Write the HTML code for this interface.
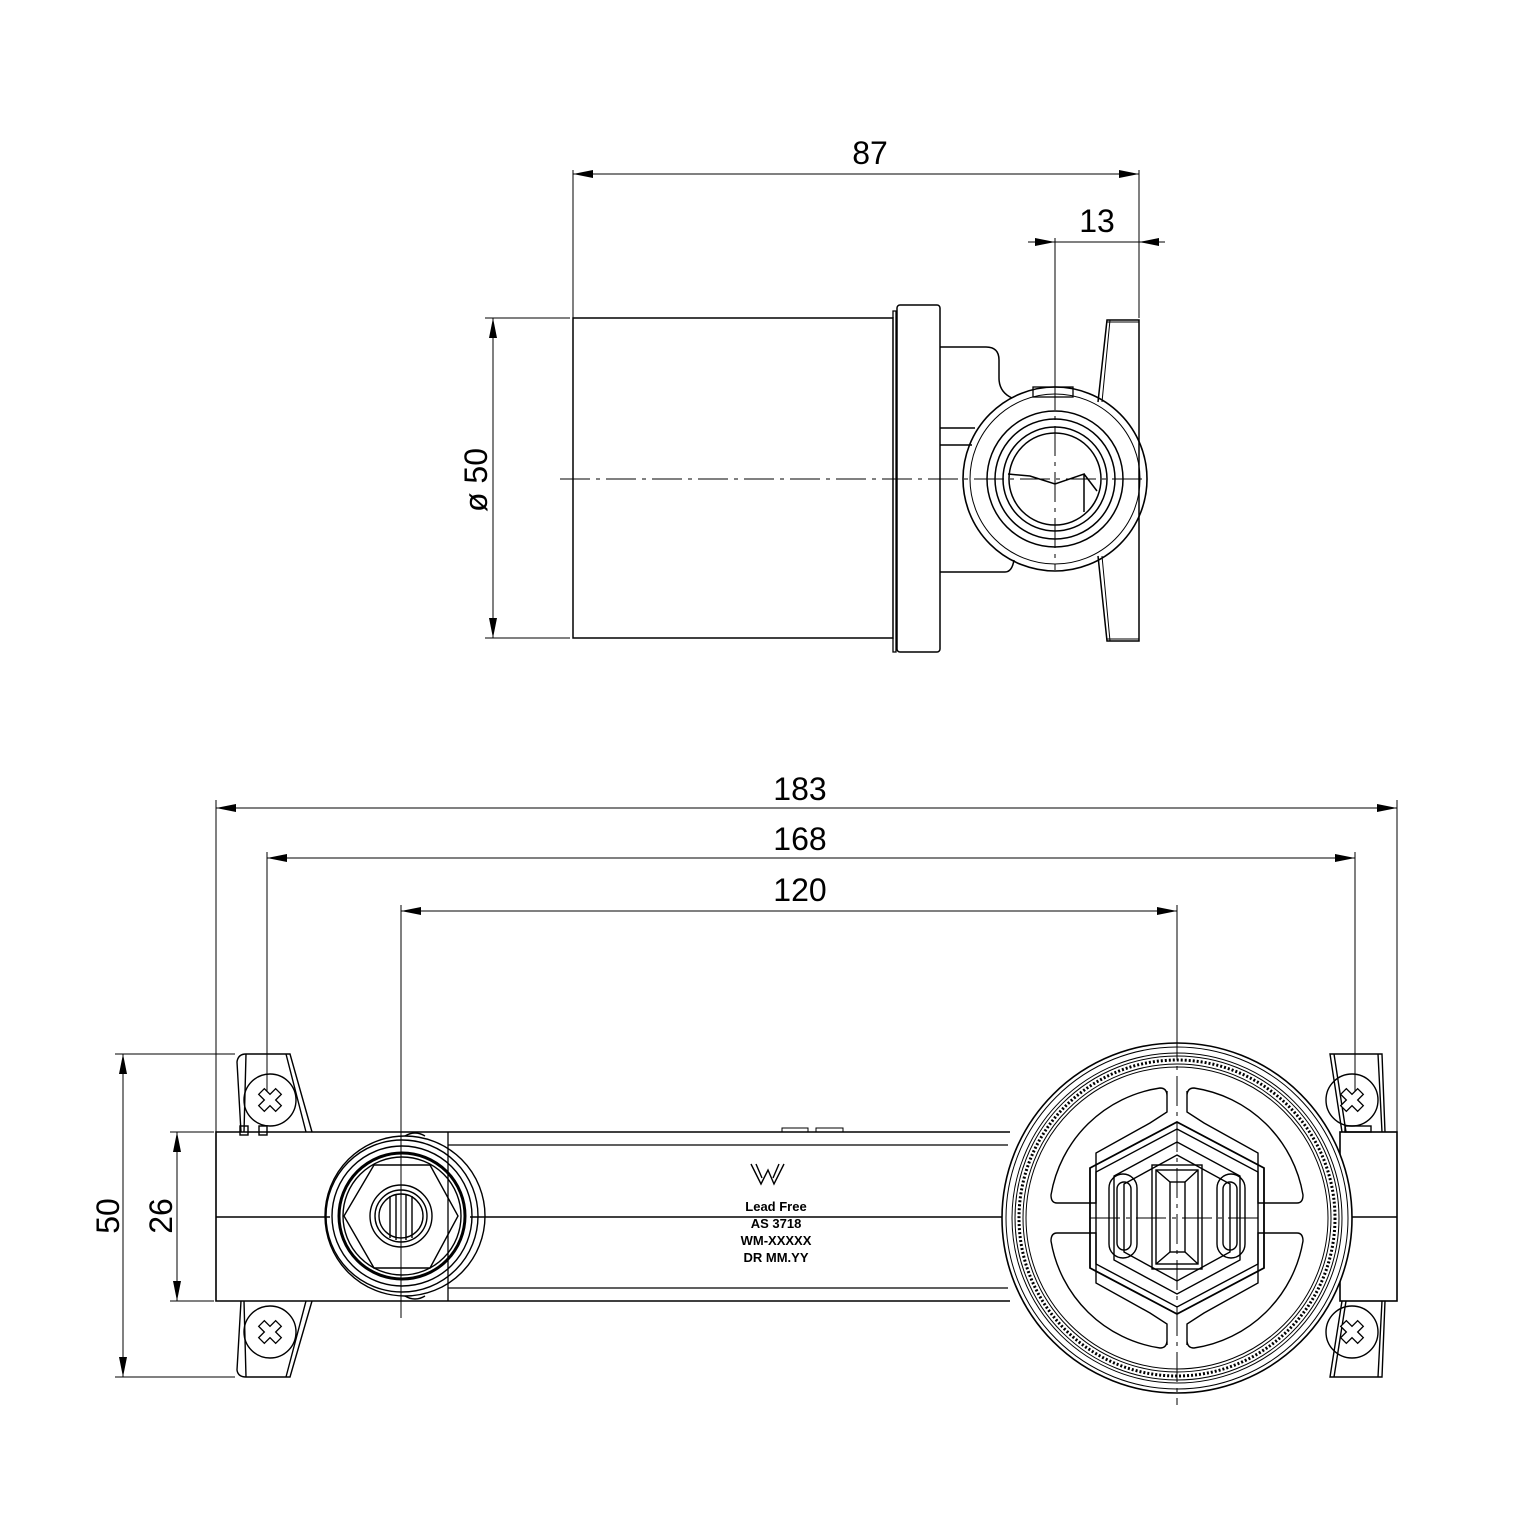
<!DOCTYPE html>
<html><head><style>body{margin:0;background:#fff}svg{display:block}</style></head>
<body>
<svg width="1536" height="1536" viewBox="0 0 1536 1536" xmlns="http://www.w3.org/2000/svg" font-family="Liberation Sans, sans-serif">
<defs>
<marker id="a" viewBox="0 0 20 8" refX="20" refY="4" markerWidth="20" markerHeight="8" markerUnits="userSpaceOnUse" orient="auto-start-reverse"><path d="M0,0 L20,4 L0,8z" fill="#000"/></marker>
</defs>
<g stroke="#000" fill="none" stroke-width="1">
<line x1="573" y1="170" x2="573" y2="318"/><line x1="1139" y1="170" x2="1139" y2="318"/>
<line x1="573" y1="174" x2="1139" y2="174" marker-start="url(#a)" marker-end="url(#a)"/>
<line x1="1055" y1="238" x2="1055" y2="400"/>
<line x1="1028" y1="242" x2="1055" y2="242" marker-end="url(#a)"/>
<line x1="1165" y1="242" x2="1139" y2="242" marker-end="url(#a)"/>
<line x1="1055" y1="242" x2="1139" y2="242"/>
<line x1="485" y1="318" x2="570" y2="318"/><line x1="485" y1="638" x2="570" y2="638"/>
<line x1="493" y1="318" x2="493" y2="638" marker-start="url(#a)" marker-end="url(#a)"/>
<rect x="573" y="318" width="320" height="320" stroke-width="1.5"/>
<path d="M893,318 V311 h3 V652 h-3 V638" stroke-width="1.3"/>
<rect x="897" y="305" width="43" height="347" rx="3" stroke-width="1.5"/>
<path d="M940,347 H986 Q999,347 999,360 V378 Q999,392 1012,398" stroke-width="1.5"/>
<path d="M940,428 H975 M940,445 H972 M940,572 H1005 Q1012,572 1014,560" stroke-width="1.5"/>
<rect x="1033" y="387" width="40" height="10" stroke-width="1.3"/>
<circle cx="1055" cy="479" r="92" stroke-width="1.6"/>
<circle cx="1055" cy="479" r="85"/>
<circle cx="1055" cy="479" r="68" stroke-width="1.5"/>
<circle cx="1055" cy="479" r="60" stroke-width="1.5"/>
<circle cx="1055" cy="479" r="52" stroke-width="1.5"/>
<circle cx="1055" cy="479" r="46" stroke-width="1.5"/>
<path d="M1008,474 L1030,476 L1055,484 L1084,474 L1084,512 M1084,474 L1097,491" stroke-width="1.5"/>
<path d="M1098,402 L1107,320 H1139 V641 H1107 L1098,556" stroke-width="1.5"/>
<path d="M1110,320 L1102,402 M1110,641 L1102,556" />
<path d="M1107,322 H1139 M1107,639 H1139"/>
</g>
<g stroke="#000" stroke-width="1" stroke-dasharray="30,6,4,6" fill="none">
<line x1="560" y1="479" x2="1145" y2="479"/>
<line x1="1055" y1="380" x2="1055" y2="570"/>
</g>
<g font-size="32" fill="#000" text-anchor="middle">
<text x="870" y="164">87</text>
<text x="1097" y="232">13</text>
<text x="0" y="0" transform="translate(487,480) rotate(-90)">ø 50</text>
<text x="800" y="800">183</text>
<text x="800" y="850">168</text>
<text x="800" y="901">120</text>
<text x="0" y="0" transform="translate(119,1216) rotate(-90)">50</text>
<text x="0" y="0" transform="translate(172,1216) rotate(-90)">26</text>
</g>
<g stroke="#000" fill="none" stroke-width="1">
<line x1="216" y1="800" x2="216" y2="1132"/><line x1="1397" y1="800" x2="1397" y2="1132"/>
<line x1="216" y1="808" x2="1397" y2="808" marker-start="url(#a)" marker-end="url(#a)"/>
<line x1="267" y1="852" x2="267" y2="1100"/><line x1="1355" y1="852" x2="1355" y2="1100"/>
<line x1="267" y1="858" x2="1355" y2="858" marker-start="url(#a)" marker-end="url(#a)"/>
<line x1="401" y1="905" x2="401" y2="1315"/><line x1="1177" y1="905" x2="1177" y2="1375"/>
<line x1="401" y1="911" x2="1177" y2="911" marker-start="url(#a)" marker-end="url(#a)"/>
<line x1="115" y1="1054" x2="235" y2="1054"/><line x1="115" y1="1377" x2="235" y2="1377"/>
<line x1="123" y1="1054" x2="123" y2="1377" marker-start="url(#a)" marker-end="url(#a)"/>
<line x1="170" y1="1132" x2="214" y2="1132"/><line x1="170" y1="1301" x2="214" y2="1301"/>
<line x1="177" y1="1132" x2="177" y2="1301" marker-start="url(#a)" marker-end="url(#a)"/>
<g stroke-width="1.4">
<path d="M241,1132 L237,1062 Q238,1054 246,1054 H290 L312,1132"/>
<path d="M246,1054 L244,1132 M286,1054 L306,1132"/>
<circle cx="270" cy="1100" r="26"/>
<path d="M241,1301 L237,1370 Q238,1377 246,1377 H290 L312,1301"/>
<path d="M246,1377 L244,1301 M286,1377 L306,1301"/>
<circle cx="270" cy="1332" r="26"/>
<path d="M1342,1132 L1330,1054 H1382 L1385,1132 M1334,1054 L1346,1132 M1378,1054 L1382,1132"/>
<circle cx="1352" cy="1100" r="26"/>
<path d="M1342,1301 L1330,1377 H1382 L1385,1301 M1334,1377 L1346,1301 M1378,1377 L1382,1301"/>
<circle cx="1352" cy="1332" r="26"/>
<rect x="1345" y="1126" width="26" height="6"/>
<rect x="240" y="1126" width="8" height="9"/><rect x="259" y="1126" width="8" height="9"/>
</g>
<path d="M1010,1132 H216 V1301 H1010" stroke-width="1.6"/>
<line x1="216" y1="1217" x2="330" y2="1217" stroke-width="1.4"/>
<line x1="470" y1="1217" x2="1005" y2="1217" stroke-width="1.4"/>
<path d="M448,1132 V1301 M448,1145 H1008 M448,1288 H1008" stroke-width="1.3"/>
<rect x="1340" y="1132" width="57" height="169" stroke-width="1.6"/>
<line x1="1340" y1="1217" x2="1397" y2="1217" stroke-width="1.4"/>
<path d="M782,1132 V1128 H808 V1132 M816,1132 V1128 H843 V1132"/>
<g stroke-width="1.4">
<circle cx="405" cy="1216" r="80"/>
<circle cx="402" cy="1216" r="76"/>
<circle cx="402" cy="1216" r="70"/>
<circle cx="402" cy="1216" r="63" stroke-width="3"/>
<circle cx="402" cy="1216" r="59"/>
<polygon points="344,1216 374,1165 430,1165 458,1216 430,1268 374,1268"/>
<circle cx="401" cy="1216" r="31"/><circle cx="401" cy="1216" r="26"/><circle cx="401" cy="1216" r="22"/>
<path d="M390,1196 V1238 M396,1194 V1240 M406,1194 V1240 M412,1196 V1238"/>
<path d="M405,1136 Q415,1130 425,1136 M405,1296 Q415,1302 425,1296"/>
</g>
<circle cx="1177" cy="1218" r="175" fill="#fff" stroke-width="1.6"/>
<circle cx="1177" cy="1218" r="171"/>
<circle cx="1177" cy="1218" r="165"/>
<circle cx="1177" cy="1218" r="162"/>
<circle cx="1177" cy="1218" r="158" stroke-dasharray="2,2" stroke-width="3"/>
<circle cx="1177" cy="1218" r="154"/>
<circle cx="1177" cy="1218" r="151"/>
<g stroke-width="1.4">
<path d="M1167,1091 V1112 L1150,1123 L1096,1153 V1203 H1057 Q1051,1203 1051,1195 A130,130 0 0 1 1160,1088 Q1167,1088 1167,1096"/>
<path d="M1187,1091 V1112 L1204,1123 L1258,1153 V1203 H1297 Q1303,1203 1303,1195 A130,130 0 0 0 1194,1088 Q1187,1088 1187,1096"/>
<path d="M1167,1345 V1324 L1150,1313 L1096,1283 V1233 H1057 Q1051,1233 1051,1241 A130,130 0 0 0 1160,1348 Q1167,1348 1167,1340"/>
<path d="M1187,1345 V1324 L1204,1313 L1258,1283 V1233 H1297 Q1303,1233 1303,1241 A130,130 0 0 1 1194,1348 Q1187,1348 1187,1340"/>
<polygon points="1177,1122 1264,1168 1264,1268 1177,1314 1090,1268 1090,1168" stroke-width="1.8"/>
<polygon points="1177,1129 1258,1172 1258,1264 1177,1307 1096,1264 1096,1172"/>
<polygon points="1177,1142 1240,1176 1240,1260 1177,1294 1114,1260 1114,1176"/>
<polygon points="1177,1155 1230,1184 1230,1252 1177,1281 1124,1252 1124,1184"/>
<rect x="1152" y="1165" width="50" height="104"/>
<rect x="1156" y="1170" width="42" height="94"/>
<rect x="1170" y="1182" width="15" height="70"/>
<path d="M1156,1170 L1170,1182 M1198,1170 L1185,1182 M1156,1264 L1170,1252 M1198,1264 L1185,1252"/>
<rect x="1109" y="1174" width="28" height="84" rx="14"/>
<rect x="1117" y="1182" width="14" height="68" rx="7"/>
<rect x="1217" y="1174" width="28" height="84" rx="14"/>
<rect x="1223" y="1182" width="14" height="68" rx="7"/>
</g>
</g>
<g stroke="#000" stroke-width="1" stroke-dasharray="30,6,4,6" fill="none">
<line x1="1177" y1="1030" x2="1177" y2="1405"/>
<line x1="1090" y1="1218" x2="1264" y2="1218"/>
<line x1="401" y1="1120" x2="401" y2="1318"/>
</g>
<g fill="#fff" stroke="#000" stroke-width="1.3">
<path d="M266,1088 h8 v8 h8 v8 h-8 v8 h-8 v-8 h-8 v-8 h8z" transform="rotate(45 270 1100)"/>
<path d="M266,1320 h8 v8 h8 v8 h-8 v8 h-8 v-8 h-8 v-8 h8z" transform="rotate(45 270 1332)"/>
<path d="M1348,1088 h8 v8 h8 v8 h-8 v8 h-8 v-8 h-8 v-8 h8z" transform="rotate(45 1352 1100)"/>
<path d="M1348,1320 h8 v8 h8 v8 h-8 v8 h-8 v-8 h-8 v-8 h8z" transform="rotate(45 1352 1332)"/>
</g>
<path d="M751,1164 L761,1184 L768,1170 L774,1184 L784,1164 M756,1164 L762,1178 M779,1164 L773,1178" stroke="#000" fill="none" stroke-width="1.4"/>
<g font-size="13" font-weight="bold" fill="#000" text-anchor="middle">
<text x="776" y="1211">Lead Free</text>
<text x="776" y="1228">AS 3718</text>
<text x="776" y="1245">WM-XXXXX</text>
<text x="776" y="1262">DR  MM.YY</text>
</g>
</svg>
</body></html>
